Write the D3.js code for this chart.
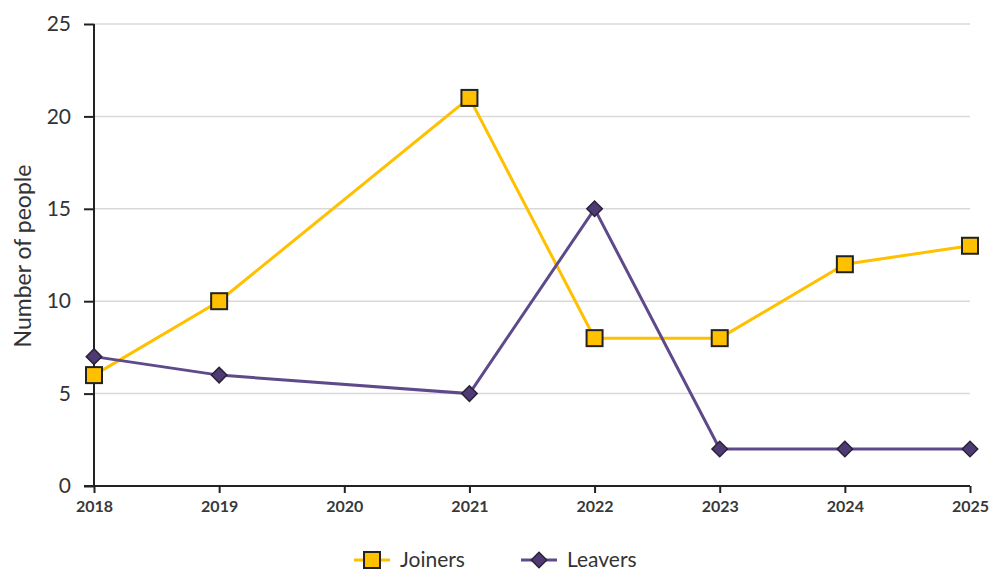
<!DOCTYPE html>
<html>
<head>
<meta charset="utf-8">
<script src="https://cdn.jsdelivr.net/npm/d3@7"></script>
<style>
  body { margin: 0; background: #fff; }
  text { font-family: Lato, "Open Sans", sans-serif; fill: #333; }
</style>
</head>
<body>
<div id="chart"></div>
<script>
// data
let years = [2018, 2019, 2020, 2021, 2022, 2023, 2024, 2025]
let joinerYears = [2018, 2019, 2021, 2022, 2023, 2024, 2025]
let joiners = [6, 10, 21, 8, 8, 12, 13]
let leaverYears = [2018, 2019, 2021, 2022, 2023, 2024, 2025]
let leavers = [7, 6, 5, 15, 2, 2, 2]
let yTicks = [0, 5, 10, 15, 20, 25]

let width = 991, height = 574

let svg = d3.select("#chart").append("svg")
  .attr("width", width)
  .attr("height", height)

let x = d3.scaleLinear().domain([2018, 2025]).range([94, 970])
let y = d3.scaleLinear().domain([0, 25]).range([486, 24])

// gridlines
svg.append("g")
  .selectAll("line")
  .data(yTicks.slice(1))
  .join("line")
  .attr("x1", x(2018)).attr("x2", x(2025))
  .attr("y1", d => y(d)).attr("y2", d => y(d))
  .style("stroke", "#d9d9d9")
  .style("stroke-width", 1.5)

// y axis
let yAxis = svg.append("g")
  .attr("transform", "translate(" + x(2018) + ",0)")
  .call(d3.axisLeft(y).tickValues(yTicks).tickSize(10).tickPadding(13))
yAxis.select(".domain").style("stroke", "#222").style("stroke-width", 2)
yAxis.selectAll(".tick line").style("stroke", "#222").style("stroke-width", 2)
yAxis.selectAll("text").style("font-size", "21px").style("fill", "#333")
yAxis.select(".domain").attr("d", "M0," + y(25) + "V" + y(0))

// x axis
let xAxis = svg.append("g")
  .attr("transform", "translate(0," + y(0) + ")")
  .call(d3.axisBottom(x).tickValues(years).tickFormat(d3.format("d")).tickSize(7).tickPadding(8))
xAxis.select(".domain").attr("d", "M" + (x(2018) - 10) + ",0H" + x(2025))
  .style("stroke", "#222").style("stroke-width", 2)
xAxis.selectAll(".tick line").style("stroke", "#222").style("stroke-width", 2)
xAxis.selectAll("text").style("font-size", "16px").style("font-weight", "bold").style("fill", "#383838")

// y label
svg.append("text")
  .attr("transform", "translate(31,256) rotate(-90)")
  .attr("text-anchor", "middle")
  .style("font-size", "23px")
  .text("Number of people")

let line = d3.line().x(d => x(d[0])).y(d => y(d[1]))

let joinData = d3.zip(joinerYears, joiners)
let leaveData = d3.zip(leaverYears, leavers)

let gold = "#ffc000", purple = "#5e4a8a", purpleDark = "#4e3b74"

svg.append("path")
  .datum(joinData)
  .attr("d", line)
  .style("fill", "none")
  .style("stroke", gold)
  .style("stroke-width", 3)

svg.append("path")
  .datum(leaveData)
  .attr("d", line)
  .style("fill", "none")
  .style("stroke", purple)
  .style("stroke-width", 3)

let diamond = d3.symbol().type(d3.symbolSquare).size(120)

svg.append("g")
  .selectAll("path")
  .data(leaveData)
  .join("path")
  .attr("d", diamond)
  .attr("transform", d => "translate(" + x(d[0]) + "," + y(d[1]) + ") rotate(45)")
  .style("fill", purpleDark)
  .style("stroke", "#2b2238")
  .style("stroke-width", 1.5)

svg.append("g")
  .selectAll("rect")
  .data(joinData)
  .join("rect")
  .attr("x", d => x(d[0]) - 8)
  .attr("y", d => y(d[1]) - 8)
  .attr("width", 16)
  .attr("height", 16)
  .style("fill", gold)
  .style("stroke", "#222")
  .style("stroke-width", 2)

// legend
let legend = svg.append("g")
let items = [
  { name: "Joiners", x: 354, color: gold },
  { name: "Leavers", x: 521, color: purple }
]
items.forEach(function (it, i) {
  legend.append("line")
    .attr("x1", it.x).attr("x2", it.x + 36)
    .attr("y1", 560).attr("y2", 560)
    .style("stroke", it.color).style("stroke-width", 3)
  if (i == 0) {
    legend.append("rect")
      .attr("x", it.x + 10).attr("y", 552).attr("width", 16).attr("height", 16)
      .style("fill", gold).style("stroke", "#222").style("stroke-width", 2)
  } else {
    legend.append("path")
      .attr("d", diamond)
      .attr("transform", "translate(" + (it.x + 18) + ",560) rotate(45)")
      .style("fill", purpleDark).style("stroke", "#2b2238").style("stroke-width", 1.5)
  }
  legend.append("text")
    .attr("x", it.x + 46).attr("y", 567)
    .style("font-size", "21px")
    .text(it.name)
})
</script>
</body>
</html>
